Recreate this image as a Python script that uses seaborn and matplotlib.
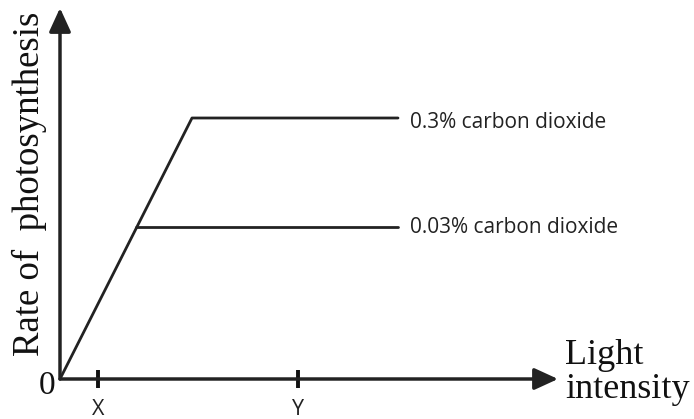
import matplotlib
matplotlib.use("Agg")
import matplotlib.pyplot as plt
import seaborn as sns
import pandas as pd

# data (arbitrary units)
light_high = [0, 13.2, 33.8]
rate_high = [0, 26.1, 26.1]
light_low = [7.6, 33.8]
rate_low = [15.2, 15.2]
tick_pos = [3.8, 23.8]
tick_labels = ["X", "Y"]
label_high = "0.3% carbon dioxide"
label_low = "0.03% carbon dioxide"

sns.set_theme(style="white")
plt.rcParams['font.family'] = ['DejaVu Sans']

W, H = 694, 419
fig = plt.figure(figsize=(W / 100, H / 100), dpi=100)
x0, y0 = 60, 379
x1, y1 = 560, 8
ax = fig.add_axes([x0 / W, (H - y0) / H, (x1 - x0) / W, (y0 - y1) / H])
ax.set_xlim(0, 50)
ax.set_ylim(0, 37.1)

df_h = pd.DataFrame({"x": light_high, "y": rate_high})
df_l = pd.DataFrame({"x": light_low, "y": rate_low})
sns.lineplot(data=df_h, x="x", y="y", ax=ax, color="#222222", lw=2, sort=False, estimator=None)
sns.lineplot(data=df_l, x="x", y="y", ax=ax, color="#222222", lw=2, sort=False, estimator=None)

for s in ax.spines.values():
    s.set_visible(False)

arrow = dict(arrowstyle="-|>,head_length=1.2,head_width=0.55", color="#222222", lw=2.5,
             shrinkA=0, shrinkB=0)
ax.annotate("", xy=(49.8, 0), xytext=(0, 0), arrowprops=arrow, annotation_clip=False)
ax.annotate("", xy=(0, 37.1), xytext=(0, 0), arrowprops=arrow, annotation_clip=False)

ax.set_xticks(tick_pos)
ax.set_xticklabels(tick_labels, fontsize=15.5, fontfamily="Open Sans", color="#222222")
ax.tick_params(axis="x", direction="inout", length=13, width=2.8, color="#111111", pad=8,
               bottom=True)
ax.set_yticks([])
ax.set_xlabel("")
ax.set_ylabel("")

serif = "Liberation Serif"
fig.text(29 / W, 1 - 184 / H, "Rate of  photosynthesis", rotation=90, ha="center", va="center",
         fontsize=26.5, fontfamily=serif, color="#111111")
fig.text(47 / W, 1 - 386 / H, "0", ha="center", va="center", fontsize=24,
         fontfamily=serif, color="#111111")
fig.text(565 / W, 1 - 355 / H, "Light", ha="left", va="center", fontsize=26,
         fontfamily=serif, color="#111111")
fig.text(565 / W, 1 - 389 / H, "intensity", ha="left", va="center", fontsize=26,
         fontfamily=serif, color="#111111")

ax.text(light_high[-1] + 1.2, rate_high[-1] - 1.0, label_high, ha="left", va="baseline",
        fontsize=15, fontfamily="Open Sans", color="#222222")
ax.text(light_low[-1] + 1.2, rate_low[-1] - 0.6, label_low, ha="left", va="baseline",
        fontsize=15, fontfamily="Open Sans", color="#222222")

fig.savefig("out.png", dpi=100, facecolor="white")
